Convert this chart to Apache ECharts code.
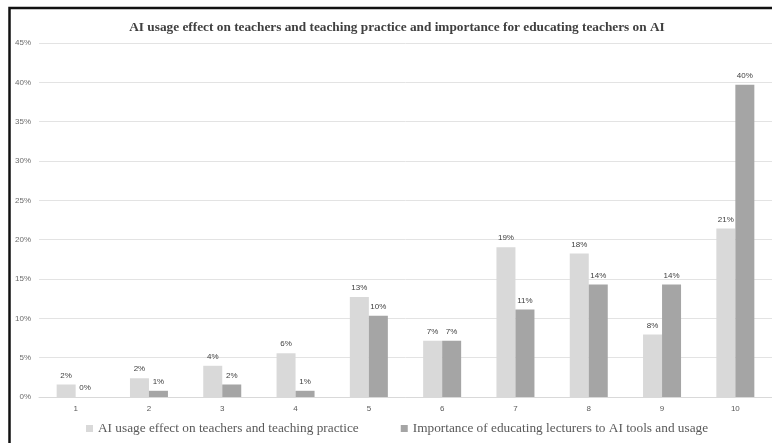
<!DOCTYPE html>
<html>
<head>
<meta charset="utf-8">
<script src="https://cdn.jsdelivr.net/npm/echarts@6/dist/echarts.min.js"></script>
<style>
  html, body { margin: 0; padding: 0; background: #fff; }
  #chart { width: 772px; height: 443px; }
</style>
</head>
<body>
<div id="chart"></div>
<script>
const categories = ['1', '2', '3', '4', '5', '6', '7', '8', '9', '10'];
const seriesNames = [
  'AI usage effect on teachers and teaching practice',
  'Importance of educating lecturers to AI tools and usage'
];
const usageEffect = [1.59, 2.38, 3.97, 5.56, 12.70, 7.14, 19.05, 18.25, 7.94, 21.43];
const educatingImportance = [0.0, 0.79, 1.59, 0.79, 10.32, 7.14, 11.11, 14.29, 14.29, 39.68];
const yTicks = [0, 5, 10, 15, 20, 25, 30, 35, 40, 45];

const chart = echarts.init(document.getElementById('chart'), null, { renderer: 'canvas' });

const labelStyle = {
  show: true,
  position: 'top',
  distance: 5,
  color: '#404040',
  fontSize: 8,
  fontFamily: 'Liberation Sans, Arial, sans-serif',
  formatter: p => Math.round(p.value) + '%'
};

chart.setOption({
  backgroundColor: '#ffffff',
  animation: false,
  title: {
    text: 'AI usage effect on teachers and teaching practice and importance for educating teachers on AI',
    left: 392,
    textAlign: 'center',
    top: 16,
    textStyle: {
      fontFamily: 'Liberation Serif, serif',
      fontWeight: 'bold',
      fontSize: 13.3,
      color: '#404040'
    }
  },
  legend: {
    bottom: 3,
    left: 81,
    itemWidth: 7,
    itemHeight: 7,
    itemGap: 42,
    icon: 'rect',
    textStyle: {
      fontFamily: 'Liberation Serif, serif',
      fontSize: 13.3,
      color: '#595959'
    },
    data: seriesNames
  },
  grid: {
    left: 39,
    top: 43,
    width: 733.5,
    height: 354,
    containLabel: false
  },
  xAxis: {
    type: 'category',
    data: categories,
    axisLine: { show: true, lineStyle: { color: '#D9D9D9', width: 1 } },
    axisTick: { show: false },
    axisLabel: {
      color: '#595959',
      fontSize: 8,
      margin: 8,
      fontFamily: 'Liberation Sans, Arial, sans-serif'
    }
  },
  yAxis: {
    type: 'value',
    min: yTicks[0],
    max: yTicks[yTicks.length - 1],
    interval: 5,
    axisLine: { show: false },
    axisTick: { show: false },
    splitLine: { lineStyle: { color: '#E3E3E3', width: 1 } },
    axisLabel: {
      color: '#6b6b6b',
      fontSize: 8,
      margin: 8,
      fontFamily: 'Liberation Sans, Arial, sans-serif',
      formatter: v => v + '%'
    }
  },
  series: [
    {
      name: seriesNames[0],
      type: 'bar',
      data: usageEffect,
      barWidth: 19,
      barGap: '0%',
      itemStyle: { color: '#D9D9D9' },
      label: labelStyle
    },
    {
      name: seriesNames[1],
      type: 'bar',
      data: educatingImportance,
      barWidth: 19,
      barGap: '0%',
      itemStyle: { color: '#A5A5A5' },
      label: labelStyle
    }
  ],
  graphic: [
    {
      type: 'rect',
      silent: true,
      shape: { x: 9.5, y: 8, width: 900, height: 600 },
      style: { fill: 'none', stroke: '#111111', lineWidth: 2.5 },
      z: 100
    }
  ]
});
</script>
</body>
</html>
